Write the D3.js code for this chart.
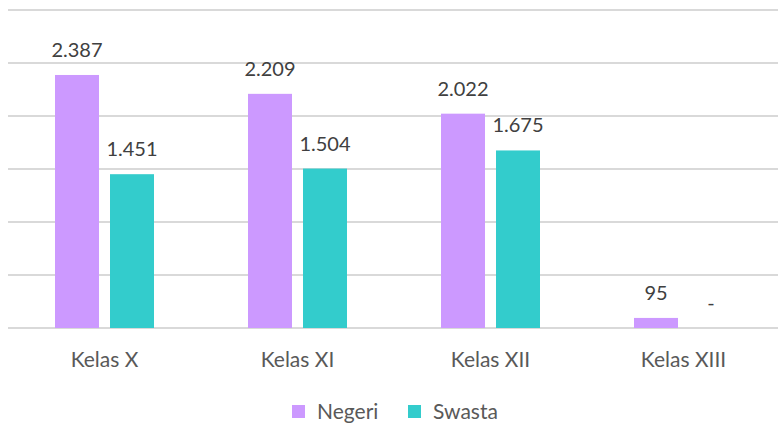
<!DOCTYPE html>
<html>
<head>
<meta charset="utf-8">
<script src="https://cdn.jsdelivr.net/npm/d3@7"></script>
<style>
  body { margin: 0; background: #fff; }
  svg { display: block; font-family: Lato, "Open Sans", sans-serif; }
</style>
</head>
<body>
<div id="chart"></div>
<script>
// Categories and values.
var categories = ["Kelas X", "Kelas XI", "Kelas XII", "Kelas XIII"];
var seriesNames = ["Negeri", "Swasta"];
var negeri = [2387, 2209, 2022, 95];
var swasta = [1451, 1504, 1675, 0];
var yTicks = [0, 500, 1000, 1500, 2000, 2500, 3000];
var colors = ["#cc99ff", "#33cccc"];

var width = 778, height = 425;
var plotLeft = 8, plotRight = 780, plotTop = 10, plotBottom = 328;

var svg = d3.select('#chart').append('svg')
  .attr('width', width)
  .attr('height', height);

var x0 = d3.scaleBand().domain(categories).range([plotLeft, plotRight]).padding(0);
var y = d3.scaleLinear().domain([0, 3000]).range([plotBottom, plotTop]);

var barW = 44, gap = 11;
function barX(i, s) {
  var c = x0(categories[i]) + x0.bandwidth() / 2;
  return c - (barW * 2 + gap) / 2 + s * (barW + gap);
}

// Gridlines
svg.selectAll('.grid').data(yTicks).enter().append('line')
  .attr('x1', plotLeft).attr('x2', plotRight)
  .attr('y1', function(d) { return Math.round(y(d)); })
  .attr('y2', function(d) { return Math.round(y(d)); })
  .attr('stroke', '#d9d9d9')
  .attr('stroke-width', 2);

var series = [negeri, swasta];
series.forEach(function(vals, s) {
  svg.selectAll('.bar' + s).data(vals).enter().append('rect')
    .attr('x', function(d, i) { return barX(i, s); })
    .attr('y', function(d) { return y(d); })
    .attr('width', barW)
    .attr('height', function(d) { return plotBottom - y(d); })
    .attr('fill', colors[s]);

  svg.selectAll('.lbl' + s).data(vals).enter().append('text')
    .attr('x', function(d, i) { return barX(i, s) + barW / 2; })
    .attr('y', function(d) { return y(d) - 18; })
    .attr('text-anchor', 'middle')
    .attr('font-size', 20)
    .attr('fill', '#404040')
    .text(function(d) { return d === 0 ? '-' : d3.format(',')(d).replace(/,/g, '.'); });
});

// Category axis labels
svg.selectAll('.cat').data(categories).enter().append('text')
  .attr('x', function(d) { return x0(d) + x0.bandwidth() / 2; })
  .attr('y', 367)
  .attr('text-anchor', 'middle')
  .attr('font-size', 21)
  .attr('fill', '#595959')
  .text(function(d) { return d; });

// Legend
var legendX = [292, 408];
seriesNames.forEach(function(name, s) {
  svg.append('rect')
    .attr('x', legendX[s]).attr('y', 405)
    .attr('width', 13).attr('height', 13)
    .attr('fill', colors[s]);
  svg.append('text')
    .attr('x', legendX[s] + 25).attr('y', 419)
    .attr('font-size', 21)
    .attr('fill', '#595959')
    .text(name);
});
</script>
</body>
</html>
